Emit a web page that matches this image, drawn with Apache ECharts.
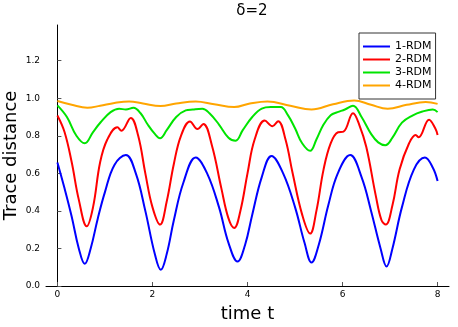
<!DOCTYPE html>
<html>
<head>
<meta charset="utf-8">
<script src="https://cdn.jsdelivr.net/npm/echarts@6/dist/echarts.min.js"></script>
<style>
  html, body { margin: 0; padding: 0; background: #fff; }
  #chart { width: 458px; height: 327px; }
</style>
</head>
<body>
<div id="chart"></div>
<script>
// values, [t, trace distance]
const rdm1 = [
  [0, 0.658], [0.15, 0.52], [0.3, 0.37], [0.45, 0.2], [0.575, 0.118], [0.7, 0.2], [0.85, 0.36],
  [1.0, 0.5], [1.2, 0.645], [1.44, 0.697], [1.65, 0.6], [1.85, 0.4], [2.05, 0.17], [2.175, 0.086],
  [2.3, 0.17], [2.45, 0.35], [2.65, 0.55], [2.91, 0.685], [3.15, 0.6], [3.4, 0.42], [3.6, 0.23],
  [3.79, 0.13], [3.95, 0.22], [4.1, 0.38], [4.3, 0.58], [4.505, 0.693], [4.75, 0.6], [5.0, 0.42],
  [5.2, 0.23], [5.347, 0.125], [5.5, 0.22], [5.7, 0.43], [5.9, 0.6], [6.16, 0.697], [6.4, 0.58],
  [6.6, 0.4], [6.8, 0.2], [6.926, 0.104], [7.05, 0.2], [7.25, 0.42], [7.5, 0.62], [7.733, 0.684],
  [7.9, 0.63], [8.0, 0.559]
];
const rdm2 = [
  [0, 0.908], [0.15, 0.82], [0.3, 0.66], [0.45, 0.46], [0.617, 0.318], [0.75, 0.42], [0.9, 0.66],
  [1.05, 0.78], [1.263, 0.845], [1.347, 0.827], [1.543, 0.895], [1.7, 0.8], [1.85, 0.6], [2.0, 0.42],
  [2.16, 0.327], [2.3, 0.45], [2.45, 0.65], [2.6, 0.8], [2.79, 0.876], [2.947, 0.836], [3.07, 0.863],
  [3.25, 0.75], [3.45, 0.52], [3.6, 0.36], [3.72, 0.309], [3.85, 0.4], [4.0, 0.6], [4.15, 0.78],
  [4.364, 0.881], [4.526, 0.851], [4.645, 0.878], [4.8, 0.78], [4.95, 0.6], [5.15, 0.38],
  [5.318, 0.279], [5.45, 0.4], [5.6, 0.62], [5.75, 0.76], [5.907, 0.819], [6.02, 0.822],
  [6.22, 0.92], [6.35, 0.86], [6.5, 0.74], [6.7, 0.48], [6.82, 0.35], [6.91, 0.327], [7.05, 0.43],
  [7.2, 0.62], [7.4, 0.76], [7.54, 0.804], [7.6, 0.792], [7.82, 0.886], [7.95, 0.84], [8.0, 0.804]
];
const rdm3 = [
  [0, 0.962], [0.2, 0.9], [0.4, 0.8], [0.575, 0.76], [0.75, 0.82], [0.91, 0.872], [1.12, 0.926],
  [1.3, 0.944], [1.44, 0.94], [1.6, 0.949], [1.75, 0.92], [1.9, 0.86], [2.05, 0.81], [2.16, 0.787],
  [2.3, 0.83], [2.5, 0.9], [2.7, 0.935], [2.85, 0.94], [3.05, 0.944], [3.2, 0.92], [3.4, 0.86],
  [3.6, 0.79], [3.75, 0.774], [3.9, 0.83], [4.1, 0.9], [4.3, 0.945], [4.49, 0.953], [4.7, 0.953],
  [4.85, 0.91], [5.0, 0.84], [5.15, 0.76], [5.318, 0.72], [5.45, 0.78], [5.6, 0.86], [5.75, 0.91],
  [5.895, 0.926], [6.05, 0.94], [6.22, 0.96], [6.4, 0.9], [6.6, 0.81], [6.75, 0.765], [6.9, 0.75],
  [7.05, 0.79], [7.25, 0.87], [7.47, 0.908], [7.68, 0.929], [7.9, 0.94], [8.0, 0.926]
];
const rdm4 = [
  [0, 0.985], [0.3, 0.965], [0.63, 0.949], [0.9, 0.96], [1.2, 0.975], [1.51, 0.983], [1.8, 0.972],
  [2.17, 0.958], [2.5, 0.972], [2.91, 0.983], [3.3, 0.968], [3.72, 0.953], [4.05, 0.972],
  [4.42, 0.983], [4.9, 0.96], [5.347, 0.94], [5.8, 0.968], [6.245, 0.988], [6.6, 0.965],
  [6.95, 0.944], [7.35, 0.965], [7.75, 0.98], [8.0, 0.97]
];
const names = ['1-RDM', '2-RDM', '3-RDM', '4-RDM'];
const colors = ['#0000ff', '#ff0000', '#00e400', '#ffa500'];
const xTicks = [0, 2, 4, 6, 8];
const yTicks = [0, 0.2, 0.4, 0.6, 0.8, 1.0, 1.2];

const font = 'DejaVu Sans';
const chart = echarts.init(document.getElementById('chart'));

const series = [rdm1, rdm2, rdm3, rdm4].map((d, i) => ({
  name: names[i],
  type: 'line',
  data: d,
  smooth: 0.4,
  showSymbol: false,
  lineStyle: { width: 2, color: colors[i] },
  itemStyle: { color: colors[i] }
}));

chart.setOption({
  animation: false,
  backgroundColor: '#fff',
  title: {
    text: 'δ=2',
    left: 247, top: -1, textAlign: 'center',
    textStyle: { fontFamily: font, fontSize: 15, fontWeight: 'normal', color: '#000' }
  },
  legend: {
    orient: 'vertical',
    left: 359, top: 33,
    padding: [7, 4, 7, 4],
    itemGap: 0,
    itemWidth: 27, itemHeight: 2,
    icon: 'rect',
    borderColor: '#333', borderWidth: 1,
    backgroundColor: '#fff',
    textStyle: { fontFamily: font, fontSize: 11, color: '#000', lineHeight: 13 },
    data: names
  },
  grid: { left: 46, right: 9, top: 25, bottom: 41, containLabel: false, outerBoundsMode: 'none' },
  xAxis: {
    type: 'value',
    min: -0.24, max: 8.24,
    name: 'time t', nameLocation: 'middle', nameGap: 19, nameMoveOverlap: false,
    nameTextStyle: { fontFamily: font, fontSize: 18, color: '#000' },
    axisLine: { show: true, lineStyle: { color: '#000', width: 1 } },
    axisTick: { show: true, inside: true, length: 4, customValues: xTicks, lineStyle: { color: '#555' } },
    axisLabel: { customValues: xTicks, margin: 4, fontFamily: font, fontSize: 9, color: '#000' },
    splitLine: { show: false }
  },
  yAxis: {
    type: 'value',
    min: 0, max: 1.39,
    name: 'Trace distance', nameLocation: 'middle', nameGap: 26, nameMoveOverlap: false,
    nameTextStyle: { fontFamily: font, fontSize: 18, color: '#000' },
    axisLine: { show: true, lineStyle: { color: '#000', width: 1 } },
    axisTick: { show: true, inside: true, length: 4, customValues: yTicks, lineStyle: { color: '#555' } },
    axisLabel: {
      customValues: yTicks, margin: 6, fontFamily: font, fontSize: 9, color: '#000',
      formatter: v => v.toFixed(1)
    },
    splitLine: { show: false }
  },
  series: series
});
</script>
</body>
</html>
